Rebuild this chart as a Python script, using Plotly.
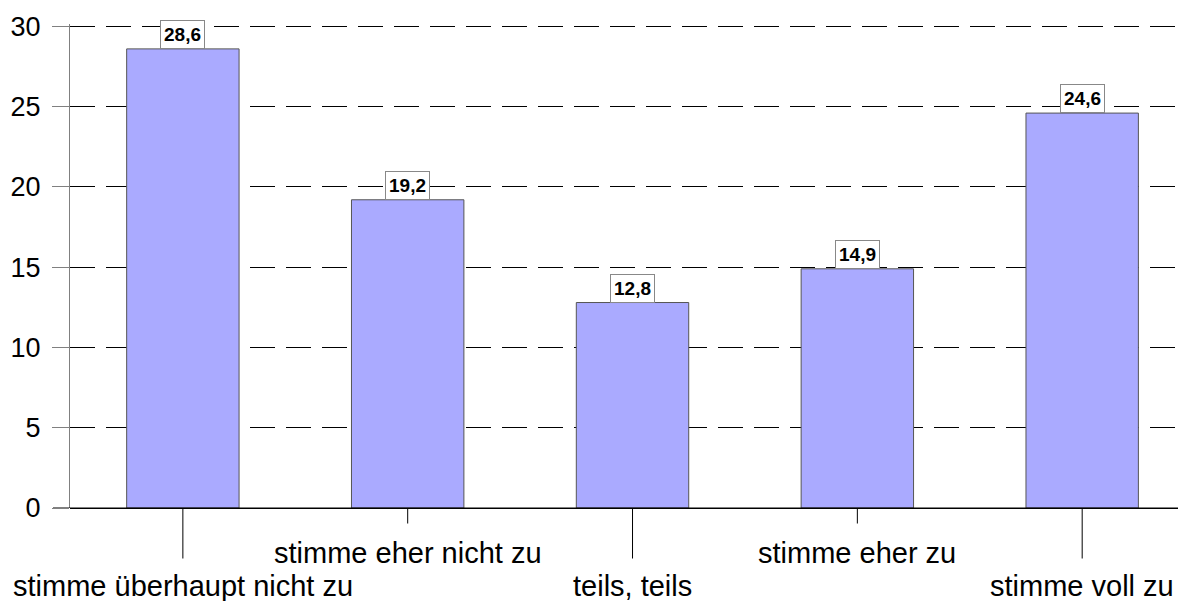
import plotly.graph_objects as go

categories = ["stimme überhaupt nicht zu", "stimme eher nicht zu", "teils, teils",
              "stimme eher zu", "stimme voll zu"]
values = [28.6, 19.2, 12.8, 14.9, 24.6]
value_labels = ["28,6", "19,2", "12,8", "14,9", "24,6"]
y_ticks = [0, 5, 10, 15, 20, 25, 30]

FONT = "Liberation Sans, Arial, sans-serif"
idx = list(range(len(categories)))

# the page body has an 8px margin, so the figure is sized/offset to compensate
W, H = 1178, 593
L, R, T, B = 62, 4, 16, 93
plot_w = W - L - R

fig = go.Figure()
fig.add_trace(go.Bar(
    x=idx, y=values, width=0.5,
    marker=dict(color="#aaaaff", line=dict(color="#555555", width=1)),
    hoverinfo="skip",
))

annotations = []
for i, (v, lab) in enumerate(zip(values, value_labels)):
    annotations.append(dict(
        x=i, y=v, xref="x", yref="y", text="<b>" + lab + "</b>", showarrow=False,
        yanchor="bottom", font=dict(family=FONT, size=19, color="black"),
        bgcolor="white", bordercolor="#888888", borderwidth=1, borderpad=3,
    ))
    lower = (i % 2 == 0)
    annotations.append(dict(
        x=i, y=0, xref="x", yref="y", text=categories[i], showarrow=False,
        yanchor="middle", yshift=-78 if lower else -45,
        font=dict(family=FONT, size=29, color="black"),
    ))
    # tick mark below the axis (long for lower-row labels, short for upper-row)
    annotations.append(dict(
        x=i, y=0, xref="x", yref="y", ax=0, ay=52 if lower else 17,
        showarrow=True, arrowhead=0, arrowwidth=1, arrowcolor="black", text="",
    ))

fig.update_layout(
    width=W, height=H,
    margin=dict(l=L, r=R, t=T, b=B, pad=0, autoexpand=False),
    paper_bgcolor="white", plot_bgcolor="white",
    showlegend=False,
    annotations=annotations,
)

fig.update_xaxes(
    range=[-0.502, 4.444], showgrid=False, zeroline=False,
    showline=False, showticklabels=False, ticks="", automargin=False,
)
fig.update_yaxes(
    range=[0, 30.15], tickvals=y_ticks, ticktext=[str(t) for t in y_ticks],
    showgrid=True, gridcolor="black", gridwidth=1, griddash="25px,11px",
    zeroline=True, zerolinecolor="black", zerolinewidth=1,
    showline=True, linecolor="#808080", linewidth=1,
    ticks="outside", ticklen=17, tickcolor="#808080",
    tickfont=dict(family=FONT, size=27, color="black"),
    ticklabelstandoff=6, automargin=False,
)
# solid x axis line extending to the left tick end
fig.add_shape(type="line", xref="paper", yref="y", x0=-17 / plot_w, x1=1, y0=0, y1=0,
              line=dict(color="black", width=1), layer="above")

fig.write_html("out.html")
